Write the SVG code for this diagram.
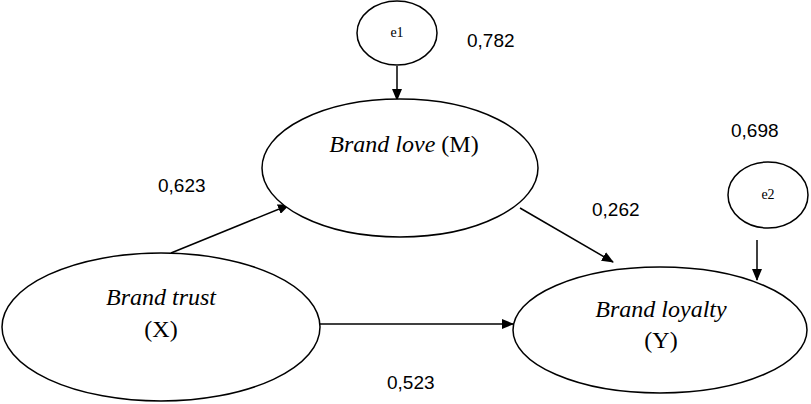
<svg xmlns="http://www.w3.org/2000/svg" width="811" height="404" viewBox="0 0 811 404">
<style>
.node{fill:#fff;stroke:#000;stroke-width:1.5}
.lbl{font-family:"Liberation Serif",serif;font-size:24px;fill:#000;text-anchor:middle}
.it{font-style:italic}
.err{font-family:"Liberation Serif",serif;font-size:14px;fill:#000;text-anchor:middle}
.num{font-family:"Liberation Sans",Arial,sans-serif;font-size:19px;fill:#000}
.con{stroke:#000;stroke-width:1.5;fill:none;marker-end:url(#ah)}
</style>
<defs>
<marker id="ah" markerWidth="12" markerHeight="10" refX="11" refY="5" orient="auto" markerUnits="userSpaceOnUse">
<path d="M0,0 L12,5 L0,10 Z" fill="#000"/>
</marker>
</defs>
<rect width="811" height="404" fill="#fff"/>
<g id="connectors">
<line class="con" x1="397" y1="66" x2="397" y2="100"/>
<line class="con" x1="171" y1="253" x2="289" y2="205"/>
<line class="con" x1="520" y1="208" x2="613" y2="262"/>
<line class="con" x1="320" y1="324" x2="513" y2="324"/>
<line class="con" x1="757" y1="240" x2="757" y2="280"/>
</g>
<g id="e1">
<ellipse class="node" cx="397" cy="33" rx="40" ry="32"/>
<text class="err" x="397" y="37">e1</text>
</g>
<g id="e2">
<ellipse class="node" cx="768" cy="195" rx="40" ry="33"/>
<text class="err" x="768" y="199">e2</text>
</g>
<g id="brand-love">
<ellipse class="node" cx="400" cy="168" rx="138" ry="69"/>
<text class="lbl" x="404" y="152"><tspan class="it">Brand love</tspan> (M)</text>
</g>
<g id="brand-trust">
<ellipse class="node" cx="161" cy="327" rx="159" ry="74"/>
<text class="lbl it" x="161" y="305">Brand trust</text>
<text class="lbl" x="161" y="337">(X)</text>
</g>
<g id="brand-loyalty">
<ellipse class="node" cx="660" cy="330" rx="147" ry="63"/>
<text class="lbl it" x="661" y="317">Brand loyalty</text>
<text class="lbl" x="661" y="348">(Y)</text>
</g>
<g id="labels">
<text class="num" x="467" y="47">0,782</text>
<text class="num" x="731" y="137">0,698</text>
<text class="num" x="158" y="192">0,623</text>
<text class="num" x="592" y="216">0,262</text>
<text class="num" x="387" y="389">0,523</text>
</g>
</svg>
